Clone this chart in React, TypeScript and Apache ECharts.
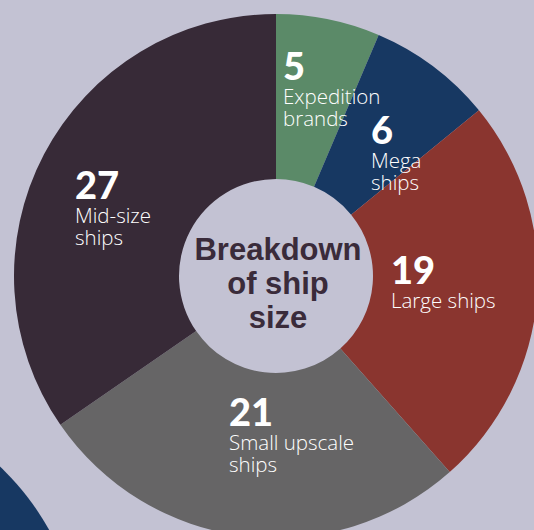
import React, { useEffect, useRef } from "react";
import * as echarts from "echarts";

const values = [5, 6, 19, 21, 27];
const categories = ["Expedition brands", "Mega ships", "Large ships", "Small upscale ships", "Mid-size ships"];
const labelLines = [["Expedition", "brands"], ["Mega", "ships"], ["Large ships"], ["Small upscale", "ships"], ["Mid-size", "ships"]];
const colors = ["#5b8a68", "#173862", "#8a352f", "#666566", "#372a37"];
const centerTitle = ["Breakdown", "of ship", "size"];

const labelAnchors = [[283, 45], [371, 109], [391, 249], [229, 391], [75, 164]];

const BG = "#c3c2d3";

export default function App() {
  const ref = useRef<HTMLDivElement>(null);
  useEffect(() => {
    const chart = echarts.init(ref.current!, null, { renderer: "svg" });
    chart.setOption({
      animation: false,
      backgroundColor: BG,
      graphic: [
        {
          type: "circle",
          z: 0,
          shape: { cx: -180, cy: 657, r: 262 },
          style: { fill: "#173862" },
        },
        {
          type: "text",
          z: 10,
          x: 278,
          y: 283,
          style: {
            text: centerTitle.join("\n"),
            align: "center",
            verticalAlign: "middle",
            fill: "#3a2b3a",
            font: "bold 31px 'Liberation Sans', Arial, sans-serif",
            lineHeight: 34,
          },
        },
      ],
      series: [
        {
          type: "pie",
          center: [276, 276],
          radius: [97, 262],
          startAngle: 90,
          clockwise: true,
          silent: true,
          itemStyle: { borderWidth: 0 },
          labelLine: { show: false },
          label: {
            show: true,
            position: "inside",
            color: "#ffffff",
            formatter: (p: any) =>
              `{n|${p.value}}\n` + labelLines[p.dataIndex].map((l) => `{t|${l}}`).join("\n"),
            rich: {
              n: {
                fontFamily: "Lato, 'Open Sans', sans-serif",
                fontWeight: 900,
                fontSize: 38,
                lineHeight: 40,
                color: "#ffffff",
                align: "left",
              },
              t: {
                fontFamily: "'Open Sans', Lato, sans-serif",
                fontWeight: 300,
                fontSize: 20.5,
                lineHeight: 22,
                color: "#ffffff",
                align: "left",
              },
            },
          },
          labelLayout: (p: any) => ({
            x: labelAnchors[p.dataIndex][0],
            y: labelAnchors[p.dataIndex][1],
            align: "left",
            verticalAlign: "top",
          }),
          data: values.map((v, i) => ({
            value: v,
            name: categories[i],
            itemStyle: { color: colors[i] },
          })),
        },
      ],
    });
    return () => chart.dispose();
  }, []);
  return (
    <div
      ref={ref}
      style={{ position: "fixed", left: 0, top: 0, width: 534, height: 530 }}
    />
  );
}
